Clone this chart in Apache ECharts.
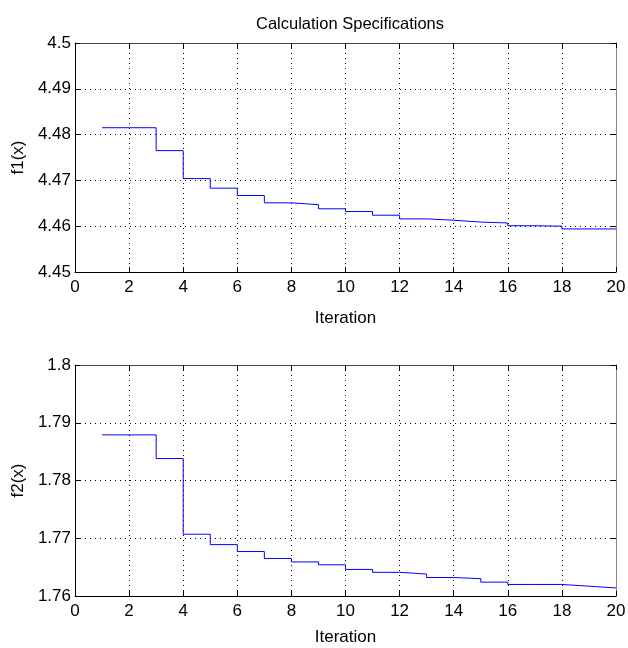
<!DOCTYPE html>
<html>
<head>
<meta charset="utf-8">
<script src="https://cdn.jsdelivr.net/npm/echarts@6/dist/echarts.min.js"></script>
<style>
html,body{margin:0;padding:0;background:#fff;}
#chart{width:628px;height:648px;}
</style>
</head>
<body>
<div id="chart"></div>
<script>
const iterations = [1,2,3,4,5,6,7,8,9,10,11,12,13,14,15,16,17,18,19,20];
const f1Values = [4.4815,4.4815,4.4765,4.4704,4.4683,4.4667,4.4651,4.4647,4.4638,4.4632,4.4624,4.4616,4.4613,4.4609,4.4607,4.4601,4.4600,4.4594,4.4594,4.4594];
const f2Values = [1.7879,1.7879,1.7838,1.7707,1.7689,1.7677,1.7665,1.7659,1.7654,1.7646,1.7641,1.7638,1.7632,1.7630,1.7624,1.7620,1.7620,1.7617,1.7614,1.7614];
const titleText = 'Calculation Specifications';
const xName = 'Iteration';
const y1Name = 'f1(x)';
const y2Name = 'f2(x)';

const FONT = '"Liberation Sans", Arial, sans-serif';
const chart = echarts.init(document.getElementById('chart'), null, {renderer:'canvas'});

function xAxisMain(gi, gap){
  return {
    type:'value', gridIndex:gi, min:0, max:20, interval:2, position:'bottom',
    name:xName, nameLocation:'middle', nameGap:gap,
    nameTextStyle:{fontFamily:FONT, fontSize:17, color:'#000'},
    axisLine:{show:true, onZero:false, lineStyle:{color:'#000', width:1}},
    axisTick:{show:true, inside:true, length:5, lineStyle:{color:'#000'}},
    axisLabel:{fontFamily:FONT, fontSize:17, color:'#000', margin:7},
    splitLine:{show:true, lineStyle:{color:'#000', type:[1,4], width:1}}
  };
}
function xAxisTop(gi){
  return {
    type:'value', gridIndex:gi, min:0, max:20, interval:2, position:'top',
    axisLine:{show:true, onZero:false, lineStyle:{color:'#444', width:1}},
    axisTick:{show:true, inside:true, length:5, lineStyle:{color:'#000'}},
    axisLabel:{show:false}, splitLine:{show:false}
  };
}
function yAxisMain(gi, min, max, name){
  return {
    type:'value', gridIndex:gi, min:min, max:max, interval:0.01, position:'left',
    name:name, nameLocation:'middle', nameGap:44, nameRotate:90,
    nameTextStyle:{fontFamily:FONT, fontSize:17, color:'#000'},
    axisLine:{show:true, onZero:false, lineStyle:{color:'#000', width:1}},
    axisTick:{show:true, inside:true, length:5, lineStyle:{color:'#000'}},
    axisLabel:{fontFamily:FONT, fontSize:17, color:'#000', margin:4,
      formatter:v => String(+v.toFixed(2))},
    splitLine:{show:true, lineStyle:{color:'#000', type:[1,4], width:1}}
  };
}
function yAxisRight(gi, min, max){
  return {
    type:'value', gridIndex:gi, min:min, max:max, interval:0.01, position:'right',
    axisLine:{show:true, onZero:false, lineStyle:{color:'#888', width:1}},
    axisTick:{show:true, inside:true, length:5, lineStyle:{color:'#000'}},
    axisLabel:{show:false}, splitLine:{show:false}
  };
}

const option = {
  animation:false,
  backgroundColor:'#fff',
  title:{
    text:titleText, left:345, top:11, textAlign:'center',
    textStyle:{fontFamily:FONT, fontSize:16.5, fontWeight:'normal', color:'#000'}
  },
  grid:[
    {left:75, top:43, width:541, height:229, outerBoundsMode:'none', containLabel:false},
    {left:75, top:365, width:541, height:231, outerBoundsMode:'none', containLabel:false}
  ],
  xAxis:[xAxisMain(0,38), xAxisTop(0), xAxisMain(1,33), xAxisTop(1)],
  yAxis:[yAxisMain(0,4.45,4.5,y1Name), yAxisRight(0,4.45,4.5), yAxisMain(1,1.76,1.8,y2Name), yAxisRight(1,1.76,1.8)],
  series:[
    {type:'line', xAxisIndex:0, yAxisIndex:0, step:'end', symbol:'none',
     lineStyle:{color:'#0000ff', width:1}, data:iterations.map((x,i)=>[x,f1Values[i]])},
    {type:'line', xAxisIndex:2, yAxisIndex:2, step:'end', symbol:'none',
     lineStyle:{color:'#0000ff', width:1}, data:iterations.map((x,i)=>[x,f2Values[i]])}
  ]
};
chart.setOption(option);
</script>
</body>
</html>
